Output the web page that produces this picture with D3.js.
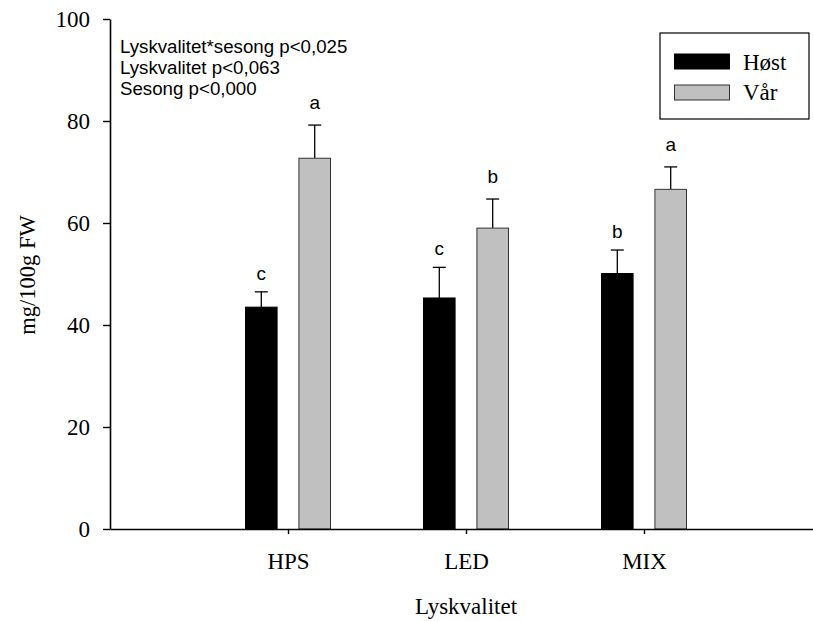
<!DOCTYPE html>
<html>
<head>
<meta charset="utf-8">
<script src="https://cdn.jsdelivr.net/npm/d3@7"></script>
<style>
  html, body { margin: 0; padding: 0; background: #fff; }
  svg { display: block; }
</style>
</head>
<body>
<svg id="chart" width="813" height="621"></svg>
<script>
// Light quality groups and season series
const categories = ["HPS", "LED", "MIX"];
const seriesNames = ["Høst", "Vår"];
const hostValues = [43.5, 45.3, 50.1];
const hostErrors = [3.0, 6.0, 4.6];
const varValues = [72.7, 59.0, 66.6];
const varErrors = [6.5, 5.7, 4.4];
const hostLetters = ["c", "c", "b"];
const varLetters = ["a", "b", "a"];
const yTicks = [0, 20, 40, 60, 80, 100];
const statLines = ["Lyskvalitet*sesong p<0,025", "Lyskvalitet p<0,063", "Sesong p<0,000"];

const series = [
  { name: seriesNames[0], values: hostValues, errors: hostErrors, letters: hostLetters, fill: "#000000", stroke: "#000000", gap: 12 },
  { name: seriesNames[1], values: varValues, errors: varErrors, letters: varLetters, fill: "#c0c0c0", stroke: "#333333", gap: 16 }
];

const svg = d3.select("#chart");
const serif = "'Liberation Serif', 'Times New Roman', serif";
const sans = "'Liberation Sans', Arial, sans-serif";

const plotLeft = 110, plotRight = 822, plotTop = 19, plotBottom = 529;

const x = d3.scalePoint().domain(categories).range([plotLeft, plotRight]).padding(1);
const y = d3.scaleLinear().domain([0, 100]).range([plotBottom, plotTop]);
const inner = d3.scaleBand().domain(seriesNames).range([-43, 43]).paddingInner(0.39);

// bars, error bars and significance letters
const g = svg.append("g");
series.forEach(s => {
  const grp = g.append("g");
  categories.forEach((c, i) => {
    const x0 = x(c) + inner(s.name);
    const w = inner.bandwidth();
    const cx = x0 + w / 2;
    const v = s.values[i];
    const hi = v + s.errors[i];
    grp.append("line")
      .attr("x1", cx).attr("x2", cx)
      .attr("y1", y(v)).attr("y2", y(hi))
      .attr("stroke", "#000").attr("stroke-width", 1.3);
    grp.append("line")
      .attr("x1", cx - 6.5).attr("x2", cx + 6.5)
      .attr("y1", y(hi)).attr("y2", y(hi))
      .attr("stroke", "#000").attr("stroke-width", 1.3);
    grp.append("rect")
      .attr("x", x0 + 0.5).attr("y", y(v))
      .attr("width", w - 1).attr("height", y(0) - y(v))
      .attr("fill", s.fill).attr("stroke", s.stroke).attr("stroke-width", 1);
    grp.append("text")
      .attr("x", cx).attr("y", y(hi) - s.gap)
      .attr("text-anchor", "middle")
      .style("font-family", sans).style("font-size", "19px")
      .text(s.letters[i]);
  });
});

// axes
const yAxis = svg.append("g")
  .attr("transform", `translate(${plotLeft},0)`)
  .call(d3.axisLeft(y).tickValues(yTicks).tickSize(7).tickSizeOuter(0).tickPadding(13));
const xAxis = svg.append("g")
  .attr("transform", `translate(0,${plotBottom})`)
  .call(d3.axisBottom(x).tickSize(5).tickSizeOuter(0).tickPadding(19));

[yAxis, xAxis].forEach(a => {
  a.select(".domain").attr("stroke", "#000").attr("stroke-width", 1.6);
  a.selectAll(".tick line").attr("stroke", "#000").attr("stroke-width", 1.4);
  a.selectAll(".tick text").attr("fill", "#000")
    .style("font-family", serif).style("font-size", "23px");
});

// axis titles
svg.append("text")
  .attr("transform", "translate(35,275) rotate(-90)")
  .attr("text-anchor", "middle")
  .style("font-family", serif).style("font-size", "22.5px")
  .text("mg/100g FW");
svg.append("text")
  .attr("x", x("LED")).attr("y", 614)
  .attr("text-anchor", "middle")
  .style("font-family", serif).style("font-size", "23px")
  .text("Lyskvalitet");

// statistics text
svg.append("g").selectAll("text").data(statLines).join("text")
  .attr("x", 120).attr("y", (d, i) => 53 + i * 21)
  .style("font-family", sans).style("font-size", "18.7px")
  .text(d => d);

// legend
const lg = svg.append("g");
lg.append("rect").attr("x", 660).attr("y", 33).attr("width", 149).attr("height", 86)
  .attr("fill", "#fff").attr("stroke", "#000").attr("stroke-width", 1.2);
series.forEach((s, i) => {
  lg.append("rect").attr("x", 674.5).attr("y", 54 + i * 31).attr("width", 55).attr("height", 15)
    .attr("fill", s.fill).attr("stroke", s.stroke).attr("stroke-width", 1);
  lg.append("text").attr("x", 743).attr("y", 70 + i * 30)
    .style("font-family", serif).style("font-size", "23px")
    .text(s.name);
});
</script>
</body>
</html>
